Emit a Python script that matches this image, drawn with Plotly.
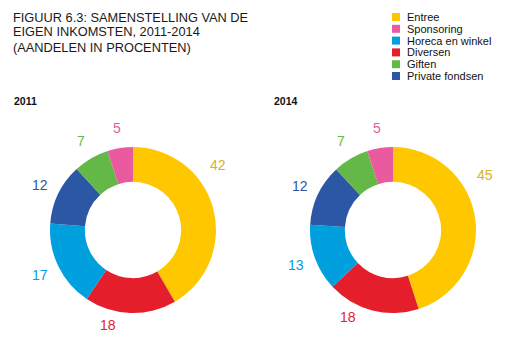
import math
import plotly.graph_objects as go

# ---------------- data ----------------
categories = ["Entree", "Sponsoring", "Horeca en winkel", "Diversen", "Giften", "Private fondsen"]
values_2011 = [42, 5, 17, 18, 7, 12]
values_2014 = [45, 5, 13, 18, 7, 12]
years = ["2011", "2014"]
title_lines = [
    "FIGUUR 6.3: SAMENSTELLING VAN DE",
    "EIGEN INKOMSTEN, 2011-2014",
    "(AANDELEN IN PROCENTEN)",
]

# ---------------- styles / layout ----------------
colors = ["#FFC700", "#EA5A9F", "#00A0DF", "#E41E2B", "#64B847", "#2B57A5"]
label_colors = ["#D5B31C", "#EA5A9F", "#00A0DF", "#E41E2B", "#64B847", "#2B57A5"]
slice_order = ["Entree", "Diversen", "Horeca en winkel", "Private fondsen", "Giften", "Sponsoring"]
label_angle_nudge = {"Entree": -22, "Diversen": 13}   # degrees, label placement only
label_radius_nudge = {"Entree": 4, "Diversen": -5}    # px, label placement only

PAGE_OFFSET = 8            # default body margin of the html page
W, H = 522 - PAGE_OFFSET, 364 - PAGE_OFFSET
FONT = "Liberation Sans, Arial, sans-serif"
centers = [(133, 230), (393, 230)]   # donut centres in screen px
R = 83
HOLE = 0.58
LABEL_R = 103


def px(x):
    return (x - PAGE_OFFSET) / W


def py(y):
    return 1 - (y - PAGE_OFFSET) / H


fig = go.Figure()
annotations = []
shapes = []

color_of = dict(zip(categories, colors))
lcolor_of = dict(zip(categories, label_colors))

for year, vals, (cx, cy) in zip(years, [values_2011, values_2014], centers):
    val_of = dict(zip(categories, vals))
    ordered_vals = [val_of[c] for c in slice_order]
    fig.add_trace(go.Pie(
        labels=slice_order,
        values=ordered_vals,
        marker=dict(colors=[color_of[c] for c in slice_order], line=dict(width=0)),
        hole=HOLE,
        sort=False,
        direction="clockwise",
        rotation=0,
        textinfo="none",
        showlegend=False,
        name=year,
        domain=dict(x=[px(cx - R), px(cx + R)], y=[py(cy + R), py(cy - R)]),
    ))
    total = sum(ordered_vals)
    cum = 0
    for c, v in zip(slice_order, ordered_vals):
        mid = (cum + v / 2) / total * 360 + label_angle_nudge.get(c, 0)
        cum += v
        a = math.radians(mid)
        r = LABEL_R + label_radius_nudge.get(c, 0)
        lx = cx + r * math.sin(a)
        ly = cy - r * math.cos(a)
        annotations.append(dict(
            x=px(lx), y=py(ly), xref="paper", yref="paper",
            text=str(v), showarrow=False, xanchor="center", yanchor="middle",
            font=dict(family=FONT, size=14, color=lcolor_of[c]),
        ))
    # year label
    annotations.append(dict(
        x=px(cx - 121), y=py(101), xref="paper", yref="paper",
        text=f"<b>{year}</b>", showarrow=False, xanchor="left", yanchor="middle",
        font=dict(family=FONT, size=10.5, color="#111111"),
    ))

# title
for i, line in enumerate(title_lines):
    annotations.append(dict(
        x=px(11), y=py(17 + 15 * i), xref="paper", yref="paper",
        text=line, showarrow=False, xanchor="left", yanchor="middle",
        font=dict(family=FONT, size=12.8, color="#1a1a1a"),
    ))

# legend (custom, tight rows)
for i, (c, col) in enumerate(zip(categories, colors)):
    yc = 17 + 11.8 * i
    shapes.append(dict(
        type="rect", xref="paper", yref="paper",
        x0=px(392), x1=px(400), y0=py(yc + 4), y1=py(yc - 4),
        fillcolor=col, line=dict(width=0),
    ))
    annotations.append(dict(
        x=px(405), y=py(yc), xref="paper", yref="paper",
        text=c, showarrow=False, xanchor="left", yanchor="middle",
        font=dict(family=FONT, size=11, color="#111111"),
    ))

fig.update_layout(
    width=W, height=H,
    margin=dict(l=0, r=0, t=0, b=0),
    paper_bgcolor="white", plot_bgcolor="white",
    annotations=annotations, shapes=shapes,
    showlegend=False,
)

fig.write_html("out.html")
